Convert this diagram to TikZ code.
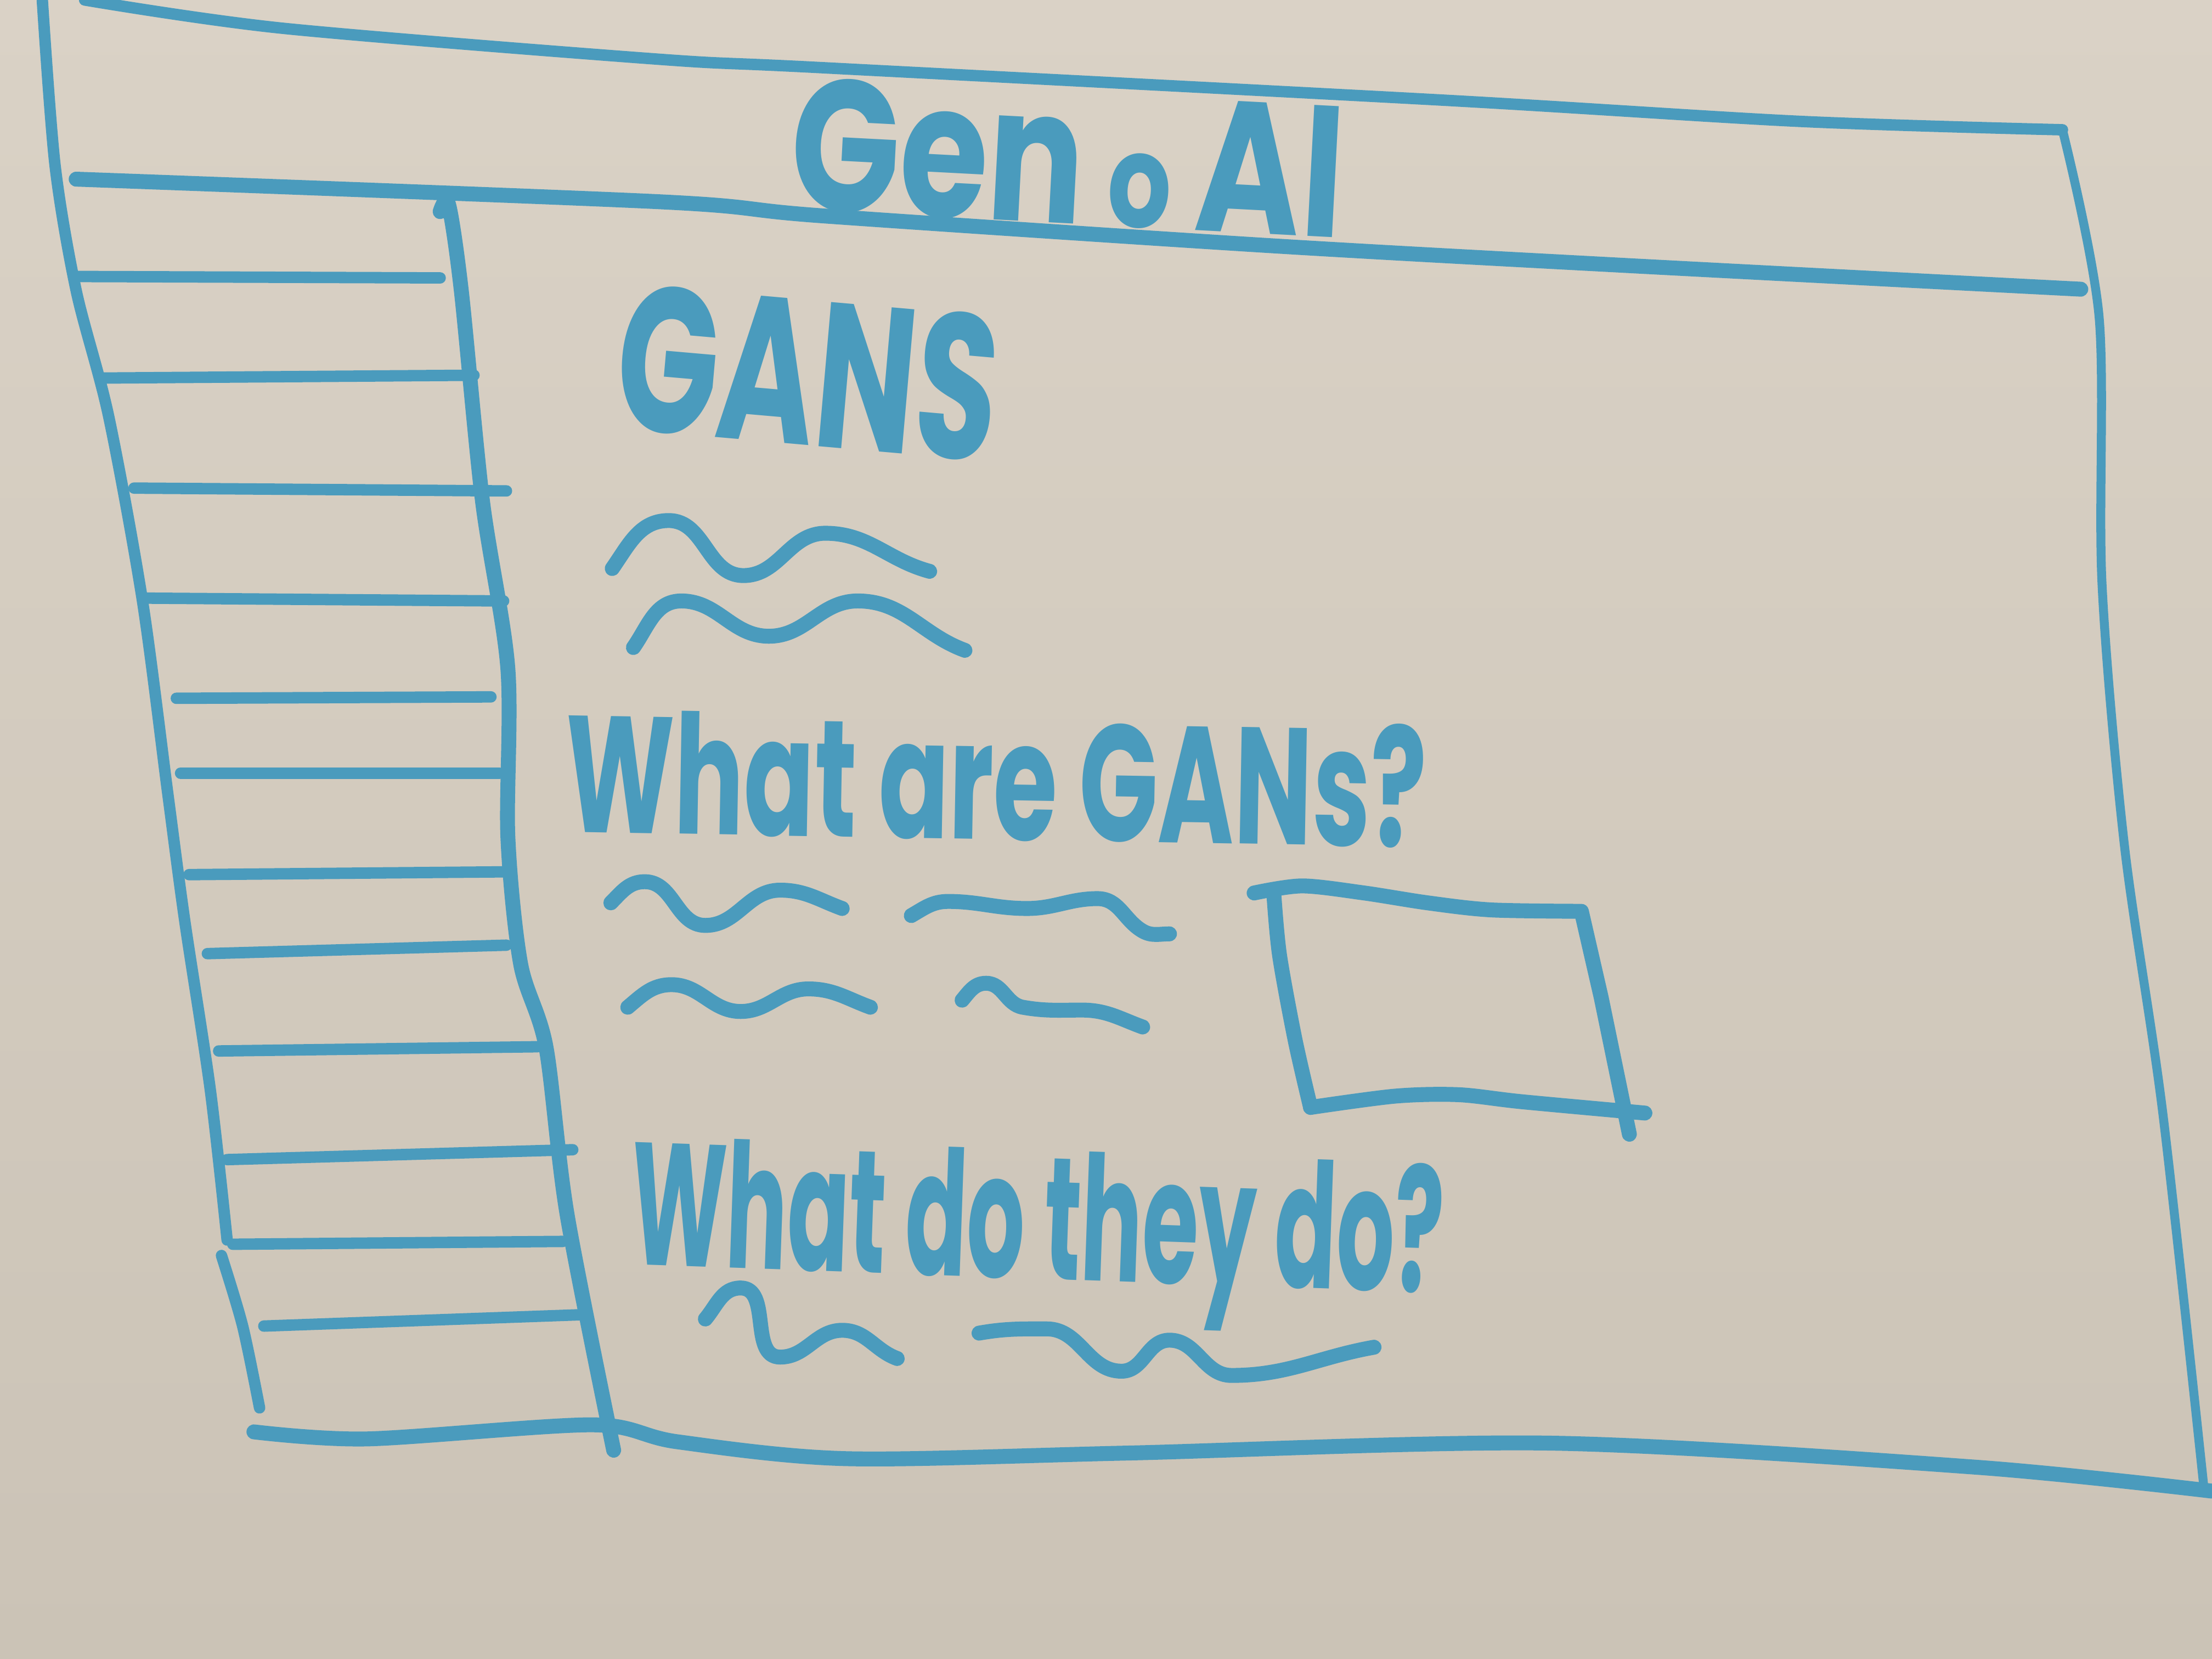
\documentclass[tikz,border=0pt]{standalone}
\usepackage{fontspec}
\usepackage{graphicx}
\setmainfont{Poppins}
\definecolor{pen}{HTML}{4A9BBD}
\definecolor{boardtop}{HTML}{DAD2C6}
\definecolor{boardbot}{HTML}{CBC3B6}

\begin{document}
\begin{tikzpicture}[x=0.01cm,y=-0.01cm,
  marker/.style={draw=pen,line width=3pt,line cap=round,line join=round},
  fine/.style={marker,line width=2.3pt},
  hand/.style={text=pen,inner sep=0pt,anchor=center,font=\bfseries}]
\shade[top color=boardtop,bottom color=boardbot] (0,0) rectangle (1568,1176);
\useasboundingbox (0,0) rectangle (1568,1176);

% page frame
\draw[fine] plot[smooth] coordinates {(60,0) (200,20) (467,42) (583,48) (1023,71) (1275,86) (1462,92)};
\draw[fine,line width=1.8pt] plot[smooth] coordinates {(1462,92) (1488,225) (1490,413) (1506,600) (1533,788) (1562,1052)};
\draw[fine] plot[smooth] coordinates {(30,0) (39,117) (54,206) (77,295) (101,426) (119,563) (131,653) (149,772) (161,879)};
\draw[fine] plot[smooth] coordinates {(157,890) (172,940) (184,998)};
\draw[marker] plot[smooth] coordinates {(180,1015) (260,1020) (420,1010) (480,1022) (600,1034) (800,1030) (1100,1023) (1400,1040) (1568,1057)};

% header
\draw[marker] plot[smooth] coordinates {(54,127) (467,143) (583,153) (898,174) (1149,188) (1475,205)};
\node[hand,rotate=-3] (title) at (757,112) {\resizebox*{3.92cm}{0.95cm}{Gen\,{\scriptsize o}\,AI}};

% sidebar
\draw[marker] plot[smooth] coordinates {(312,150) (318,145) (327,206) (342,355) (360,474) (360,593) (369,683) (387,742) (402,861) (435,1028)};
\foreach \xa/\ya/\xb/\yb in {54/196/312/197, 71/268/336/266, 95/346/359/348, 104/424/357/426,
    125/495/348/494, 128/548/354/548, 134/620/360/618, 147/676/359/670,
    155/745/381/742, 161/822/406/815, 165/882/399/880, 187/940/411/932}
  \draw[fine] (\xa,\ya) -- (\xb,\yb);

% content
\node[hand,rotate=-5] (gans) at (573,264) {\resizebox*{2.7cm}{1.05cm}{GANS}};
\draw[marker] (434,403) to[out=55,in=180] (474,369) to[out=0,in=180] (527,408)
  to[out=0,in=180] (585,378) to[out=0,in=165] (659,405);
\draw[marker] (449,459) to[out=55,in=180] (483,426) to[out=0,in=180] (545,451)
  to[out=0,in=180] (608,426) to[out=0,in=160] (684,461);

\node[hand,rotate=-1] (whatare) at (706,552) {\resizebox*{6.1cm}{0.88cm}{What are GANs?}};
\draw[marker] (433,640) to[out=45,in=180] (457,625) to[out=0,in=180] (500,656)
  to[out=0,in=180] (553,631) to[out=0,in=160] (597,644);
\draw[marker] (646,649) to[out=30,in=180] (672,639) to[out=0,in=180] (728,644)
  to[out=0,in=180] (778,637) to[out=0,in=150] (810,660) to[out=-30,in=180] (829,662);
\draw[marker] (445,714) to[out=40,in=180] (476,698) to[out=0,in=180] (525,717)
  to[out=0,in=180] (573,701) to[out=0,in=160] (617,714);
\draw[marker] (682,709) to[out=50,in=180] (699,697) to[out=0,in=170] (725,714)
  to[out=-10,in=180] (767,716) to[out=0,in=160] (810,728);

\draw[marker] plot[smooth] coordinates {(889,633) (923,628) (967,633) (1012,640) (1057,645) (1121,646)}
  -- (1135,707) -- (1155,804);
\draw[marker] plot[smooth] coordinates {(903,634) (907,677) (918,737) (929,785)};
\draw[marker] plot[smooth] coordinates {(929,785) (989,777) (1034,776) (1079,781) (1166,789)};

\node[hand,rotate=-2] (whatdo) at (735,877) {\resizebox*{5.76cm}{1.24cm}{What do they do?}};
\draw[marker] (500,935) to[out=50,in=180] (525,913) to[out=0,in=180] (553,962)
  to[out=0,in=180] (597,943) to[out=0,in=160] (636,963);
\draw[marker] (694,945) to[out=10,in=180] (742,942) to[out=0,in=180] (795,972)
  to[out=0,in=180] (829,950) to[out=0,in=180] (873,975) to[out=0,in=190] (974,955);
\end{tikzpicture}
\end{document}
